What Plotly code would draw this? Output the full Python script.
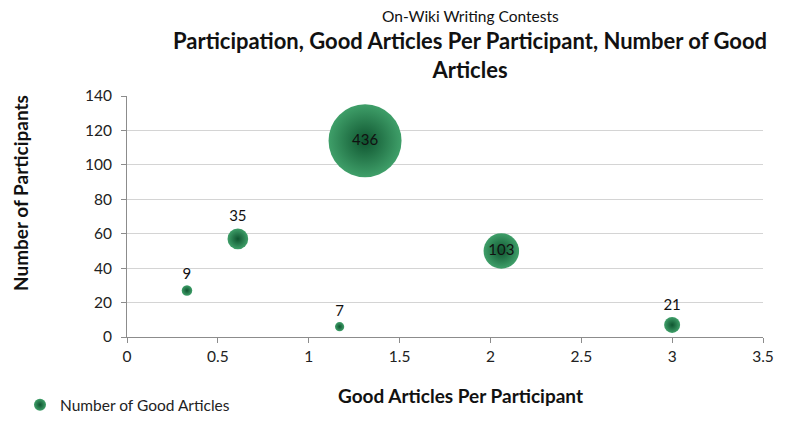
import plotly.graph_objects as go

# Data
good_per_participant = [0.33, 0.61, 1.17, 1.31, 2.06, 3.0]
participants = [27, 57, 6, 114, 50, 7]
good_articles = [9, 35, 7, 436, 103, 21]
label_pos = ["top center", "top center", "top center", "middle center", "middle center", "top center"]

W, H = 800, 432
L, R, T, B = 127, 37, 96, 95
PW, PH = W - L - R, H - T - B

def px(x):
    return (x - L) / PW

def py(y):
    return (H - B - y) / PH

FONT = "Lato"
sizeref = 2 * max(good_articles) / (73 ** 2)

fig = go.Figure()
fig.add_trace(go.Scatter(
    x=good_per_participant, y=participants,
    mode="markers+text",
    text=[str(v) for v in good_articles],
    textposition=label_pos,
    textfont=dict(family=FONT, size=15, color="#111111"),
    marker=dict(
        size=good_articles, sizemode="area", sizeref=sizeref, sizemin=2,
        color="#3f9f69",
        opacity=1,
        gradient=dict(type="radial", color="#0f5530"),
        line=dict(width=0),
    ),
    name="Number of Good Articles",
    showlegend=True,
    cliponaxis=False,
))

fig.update_layout(
    width=W, height=H,
    margin=dict(l=L, r=R, t=T, b=B, autoexpand=False),
    paper_bgcolor="white", plot_bgcolor="white",
    font=dict(family=FONT, size=15, color="#222222"),
    legend=dict(xref="container", yref="container", x=0.025, y=0.062,
                xanchor="left", yanchor="middle", itemsizing="constant",
                itemwidth=30, font=dict(family=FONT, size=15.5, color="#222222"),
                bgcolor="rgba(0,0,0,0)", tracegroupgap=0),
    xaxis=dict(range=[0, 3.5], dtick=0.5, showgrid=False, zeroline=False,
               showline=True, linecolor="#8c8c8c", linewidth=1,
               ticks="outside", ticklen=5, tickcolor="#8c8c8c",
               tickfont=dict(family=FONT, size=15.5, color="#222222")),
    yaxis=dict(range=[0, 140], dtick=20, showgrid=True, gridcolor="#d4d4d4",
               gridwidth=1, zeroline=False,
               showline=True, linecolor="#8c8c8c", linewidth=1,
               ticks="outside", ticklen=5, tickcolor="#8c8c8c",
               ticklabelstandoff=6,
               tickfont=dict(family=FONT, size=15.5, color="#222222")),
    annotations=[
        dict(text="On-Wiki Writing Contests", x=px(470), y=py(16), xref="paper", yref="paper",
             showarrow=False, xanchor="center", yanchor="middle",
             font=dict(family=FONT, size=15.5, color="#111111")),
        dict(text="<b>Participation, Good Articles Per Participant, Number of Good<br>Articles</b>",
             x=px(470), y=py(55), xref="paper", yref="paper",
             showarrow=False, xanchor="center", yanchor="middle", align="center",
             font=dict(family=FONT, size=22, color="#111111")),
        dict(text="<b>Good Articles Per Participant</b>", x=px(460), y=py(395),
             xref="paper", yref="paper", showarrow=False, xanchor="center", yanchor="middle",
             font=dict(family=FONT, size=19, color="#111111")),
        dict(text="<b>Number of Participants</b>", x=px(20), y=py(193),
             xref="paper", yref="paper", showarrow=False, xanchor="center", yanchor="middle",
             textangle=-90, font=dict(family=FONT, size=19, color="#111111")),
    ],
)

fig.write_html("out.html")
